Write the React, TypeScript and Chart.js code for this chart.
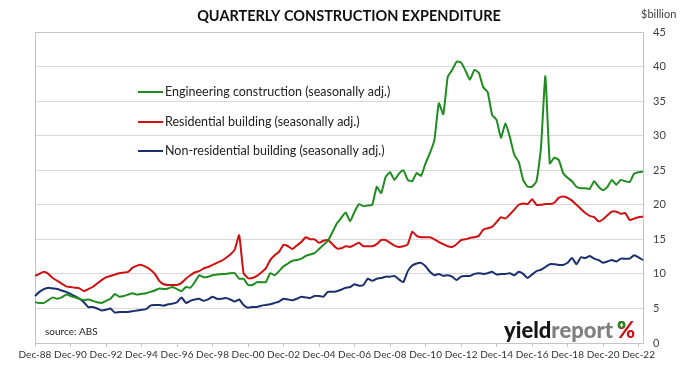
import React, { useEffect, useRef } from "react";
import { Chart, registerables } from "chart.js";

Chart.register(...registerables);

const FONT = "Lato, 'Open Sans', sans-serif";

// Quarterly categories: Dec-88 .. Mar-23
const MONTHS = ["Dec", "Mar", "Jun", "Sep"];
const quarterLabels: string[] = [];
for (let i = 0; i < 138; i++) {
  const m = MONTHS[i % 4];
  const yr = 1988 + Math.ceil(i / 4);
  quarterLabels.push(`${m}-${String(yr % 100).padStart(2, "0")}`);
}

const yTicks = [0, 5, 10, 15, 20, 25, 30, 35, 40, 45];

const seriesNames = [
  "Engineering construction (seasonally adj.)",
  "Residential building (seasonally adj.)",
  "Non-residential building (seasonally adj.)",
];

const engineering = [
  5.9, 5.8, 5.8, 6.2, 6.6, 6.4, 6.6, 7.0,
  6.8, 6.6, 6.4, 6.2, 6.3, 6.1, 5.9, 5.8,
  6.1, 6.4, 7.1, 6.7, 6.8, 7.0, 7.2, 7.0,
  7.1, 7.2, 7.4, 7.6, 7.9, 7.8, 7.9, 8.1,
  7.8, 7.5, 8.1, 8.0, 8.8, 9.8, 9.5, 9.6,
  9.8, 9.9, 10.0, 10.0, 10.1, 10.1, 9.3, 9.3,
  8.4, 8.4, 8.8, 8.8, 8.8, 10.1, 9.8, 10.4,
  11.1, 11.5, 11.9, 12.0, 12.2, 12.6, 12.8, 13.0,
  13.6, 14.2, 14.8, 16.0, 17.3, 18.1, 18.9, 17.6,
  19.0, 20.1, 19.8, 19.9, 20.0, 22.6, 21.7, 24.0,
  24.7, 23.6, 24.5, 25.0, 23.6, 23.4, 24.6, 24.2,
  26.0, 27.5, 29.4, 34.7, 33.1, 38.5, 39.5, 40.7,
  40.6, 39.4, 38.1, 39.5, 39.1, 37.0, 36.3, 33.0,
  32.3, 29.7, 31.8, 29.8, 27.2, 26.2, 23.6, 22.6,
  22.6, 23.4, 28.2, 38.6, 26.0, 26.8, 26.5, 24.6,
  23.9, 23.4, 22.6, 22.4, 22.4, 22.3, 23.4, 22.6,
  22.1, 22.6, 23.6, 22.9, 23.6, 23.4, 23.3, 24.5,
  24.7, 24.8,
];

const residential = [
  9.7, 10.0, 10.3, 10.0, 9.4, 9.0, 8.6, 8.2,
  8.1, 8.0, 7.9, 7.5, 7.8, 8.1, 8.6, 9.1,
  9.5, 9.7, 9.9, 10.1, 10.2, 10.3, 10.9, 11.2,
  11.3, 11.0, 10.6, 10.0, 9.0, 8.5, 8.4, 8.4,
  8.4, 8.7, 9.3, 9.8, 10.2, 10.4, 10.8, 11.0,
  11.3, 11.6, 11.9, 12.3, 12.8, 13.5, 15.6, 10.1,
  9.4, 9.4, 9.7, 10.2, 10.8, 12.0, 12.7, 13.2,
  14.2, 14.0, 13.6, 14.1, 14.6, 15.3, 15.0, 15.0,
  14.5, 14.8, 14.9, 14.3, 13.7, 13.7, 14.0, 13.9,
  14.2, 14.5, 14.0, 14.0, 14.0, 14.3, 14.9, 14.9,
  14.5, 14.1, 13.9, 14.0, 14.3, 16.1, 15.5, 15.3,
  15.3, 15.3, 15.0, 14.6, 14.3, 14.0, 13.9, 14.3,
  14.9, 15.0, 15.2, 15.3, 15.5, 16.4, 16.6, 16.8,
  17.5, 18.2, 18.0, 18.6, 19.3, 20.0, 20.2, 20.1,
  20.8, 20.0, 20.0, 20.1, 20.1, 20.3, 21.0, 21.2,
  21.0, 20.6, 20.0, 19.4, 18.8, 18.4, 18.2, 17.6,
  17.9, 18.5, 19.0, 19.0, 18.7, 18.8, 17.8, 18.0,
  18.2, 18.3,
];

const nonResidential = [
  6.8, 7.4, 7.8, 8.0, 7.9, 7.8, 7.6, 7.4,
  7.1, 6.8, 6.4, 5.9, 5.2, 5.2, 5.0, 4.7,
  4.8, 5.0, 4.4, 4.5, 4.5, 4.5, 4.6, 4.7,
  4.8, 4.9, 5.4, 5.5, 5.5, 5.4, 5.6, 5.7,
  5.9, 6.6, 5.8, 6.1, 6.3, 6.4, 6.1, 6.3,
  6.7, 6.4, 6.4, 6.5, 6.3, 6.0, 6.3, 5.5,
  5.1, 5.2, 5.2, 5.4, 5.5, 5.6, 5.8, 6.0,
  6.4, 6.3, 6.2, 6.4, 6.7, 6.6, 6.5, 6.8,
  6.8, 6.7, 7.4, 7.4, 7.5, 7.7, 8.0, 8.1,
  8.5, 8.3, 8.4, 9.3, 9.0, 9.3, 9.4, 9.6,
  9.6, 9.7, 9.2, 8.8, 10.4, 11.2, 11.5, 11.6,
  11.1, 10.3, 9.8, 10.0, 9.7, 9.8, 9.6, 9.1,
  9.6, 9.7, 9.7, 10.0, 10.1, 10.0, 10.1, 10.3,
  9.9, 10.0, 10.0, 10.1, 9.8, 10.3, 10.0, 9.4,
  9.9, 10.4, 10.6, 11.0, 11.4, 11.4, 11.3, 11.3,
  11.6, 12.3, 11.4, 12.4, 12.3, 12.6, 12.2, 12.0,
  11.6, 11.8, 12.0, 11.8, 12.2, 12.2, 12.2, 12.7,
  12.4, 12.0,
];

const COLORS = ["#1e8c1e", "#d01010", "#1a2f6e"];

const decorPlugin = {
  id: "decor",
  beforeDatasetsDraw(chart: any) {
    const { ctx, chartArea: a } = chart;
    ctx.save();
    ctx.strokeStyle = "#c4c4c4";
    ctx.lineWidth = 1;
    ctx.beginPath();
    ctx.moveTo(Math.round(a.left) + 0.5, Math.round(a.bottom));
    ctx.lineTo(Math.round(a.left) + 0.5, Math.round(a.top) + 0.5);
    ctx.lineTo(Math.round(a.right) - 0.5, Math.round(a.top) + 0.5);
    ctx.stroke();
    ctx.restore();
  },
  afterDraw(chart: any) {
    const { ctx } = chart;
    ctx.save();
    // Title
    ctx.fillStyle = "#111";
    ctx.font = `bold 14.5px ${FONT}`;
    ctx.textAlign = "center";
    ctx.textBaseline = "middle";
    ctx.fillText("QUARTERLY CONSTRUCTION EXPENDITURE", 349, 16);
    // unit
    ctx.font = `11px ${FONT}`;
    ctx.fillStyle = "#404040";
    ctx.textAlign = "left";
    ctx.fillText("$billion", 641, 14);
    // legend
    const rows = [92, 122, 151];
    ctx.font = `12.5px ${FONT}`;
    rows.forEach((y, k) => {
      ctx.strokeStyle = COLORS[k];
      ctx.lineWidth = 2;
      ctx.beginPath();
      ctx.moveTo(138, y);
      ctx.lineTo(163, y);
      ctx.stroke();
      ctx.fillStyle = "#222";
      ctx.fillText(seriesNames[k], 165, y);
    });
    // source
    ctx.font = `10px ${FONT}`;
    ctx.fillStyle = "#222";
    ctx.fillText("source: ABS", 45, 332);
    // logo
    ctx.textBaseline = "alphabetic";
    ctx.font = `900 22px ${FONT}`;
    const bx = 504;
    const by = 338;
    ctx.fillStyle = "#151515";
    ctx.fillText("yield", bx, by);
    const w1 = ctx.measureText("yield").width;
    ctx.fillStyle = "#7f7f7f";
    ctx.fillText("report", bx + w1, by);
    const w2 = ctx.measureText("report").width;
    const px = bx + w1 + w2 + 4;
    const pw = ctx.measureText("%").width;
    ctx.fillStyle = "#cc1016";
    ctx.fillText("%", px, by);
    ctx.save();
    ctx.beginPath();
    ctx.rect(px - 1, by - 20, pw * 0.55, 10);
    ctx.clip();
    ctx.fillStyle = "#1d8a2a";
    ctx.fillText("%", px, by);
    ctx.restore();
    ctx.restore();
  },
};

export default function App() {
  const ref = useRef<HTMLCanvasElement | null>(null);
  useEffect(() => {
    if (!ref.current) return;
    const chart = new Chart(ref.current, {
      type: "line",
      data: {
        labels: quarterLabels,
        datasets: [
          { label: seriesNames[0], data: engineering, borderColor: COLORS[0], backgroundColor: COLORS[0] },
          { label: seriesNames[1], data: residential, borderColor: COLORS[1], backgroundColor: COLORS[1] },
          { label: seriesNames[2], data: nonResidential, borderColor: COLORS[2], backgroundColor: COLORS[2] },
        ],
      },
      options: {
        responsive: false,
        animation: false,
        devicePixelRatio: 1,
        layout: { padding: { left: 35, top: 32, right: 0, bottom: 0 } },
        elements: {
          point: { radius: 0 },
          line: { borderWidth: 2, tension: 0.15 },
        },
        plugins: {
          legend: { display: false },
          tooltip: { enabled: false },
          title: { display: false },
        },
        scales: {
          x: {
            type: "category",
            offset: false,
            grid: { drawOnChartArea: false, drawTicks: true, tickLength: 4, color: "#c4c4c4" },
            border: { color: "#c4c4c4" },
            ticks: {
              autoSkip: false,
              maxRotation: 0,
              minRotation: 0,
              padding: 2,
              color: "#333",
              font: { family: FONT, size: 10 },
              callback: (_v: any, i: number) => (i % 8 === 0 ? quarterLabels[i] : null),
            },
            afterFit: (s: any) => {
              s.height = 23;
            },
          },
          y: {
            position: "right",
            min: 0,
            max: 45,
            afterBuildTicks: (s: any) => {
              s.ticks = yTicks.map((v) => ({ value: v }));
            },
            grid: { color: "#d9d9d9", drawTicks: false },
            border: { color: "#c4c4c4" },
            ticks: {
              padding: 10,
              color: "#404040",
              font: { family: FONT, size: 11 },
            },
            afterFit: (s: any) => {
              s.width = 47;
            },
          },
        },
      },
      plugins: [decorPlugin],
    } as any);
    return () => chart.destroy();
  }, []);
  return (
    <div style={{ position: "fixed", left: 0, top: 0, width: 690, height: 366, background: "#fff" }}>
      <canvas ref={ref} width={690} height={366} style={{ display: "block" }} />
    </div>
  );
}
